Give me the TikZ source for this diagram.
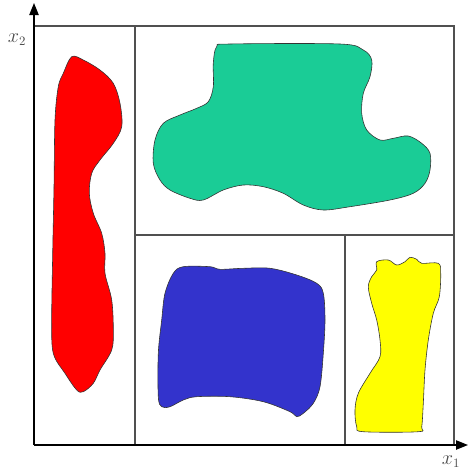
\documentclass[tikz,border=0pt]{standalone}
\usepackage{tikz}
\usetikzlibrary{arrows.meta}
\definecolor{part}{RGB}{80,80,80}
\definecolor{redset}{RGB}{255,0,0}
\definecolor{greenset}{RGB}{26,204,150}
\definecolor{blueset}{RGB}{51,51,204}
\definecolor{yellowset}{RGB}{255,255,0}

\begin{document}
\begin{tikzpicture}[x=0.03cm,y=-0.03cm,
  cell/.style={draw=part,line width=1.1pt},
  axis/.style={-{Triangle[length=3.6mm,width=2.8mm]},draw=black,line width=1.1pt},
  blob/.style={draw=black!80,line width=0.5pt,smooth cycle,tension=0.55},
  lab/.style={text=black!70,font=\fontsize{16}{16}\selectfont}]
\useasboundingbox (0,0) rectangle (468,473);
% partition of the plane
\coordinate (o) at (34,445);
\draw[cell] (34,26) -- (454,26) -- (454,445);
\draw[cell] (135,26) -- (135,445);
\draw[cell] (135,235) -- (454,235);
\draw[cell] (345,235) -- (345,445);
% axes
\coordinate (ytop) at (34,3);
\coordinate (xend) at (468,445);
\draw[axis] (o) -- (ytop);
\draw[axis] (o) -- (xend);
\node[lab] (x2) at (17,40) {$x_2$};
\node[lab] (x1) at (451,462) {$x_1$};
% the four classes
\fill[redset,draw=black!80,line width=0.5pt] plot[smooth cycle,tension=0.55] coordinates {
  (71.7,56.7) (83.3,60) (100,70) (113.3,83.3) (120,103.3) (121.7,126.7)
  (113.3,143.3) (100,160) (91.7,173.3) (89.3,193.3) (93.3,213.3) (101.7,233.3)
  (105,253.3) (105,273.3) (111.7,300) (113.3,330) (111.7,350) (100,370)
  (93.3,383.3) (83.3,391.7) (76.7,390) (65,373.3) (53.3,353.3) (51.7,320)
  (52.7,253.3) (54,186.7) (55,120) (58.3,86.7) (63.3,73.3)};
\fill[greenset,draw=black!80,line width=0.5pt] plot[smooth cycle,tension=0.55] coordinates {
  (216.7,46.7) (230,44) (340,44) (363.3,50) (371.7,60) (370,76.7)
  (363.3,93.3) (361.7,113.3) (366.7,130) (380,140) (393.3,138.3) (408.3,136)
  (421.7,143.3) (430,153.3) (430,170) (425,183.3) (413.3,193.3) (390,200)
  (350,206.7) (323.3,210) (303.3,205) (283.3,193.3) (263.3,186.7) (243.3,185)
  (223.3,190) (203.3,200) (190,198.3) (170,190) (160,180) (153.3,163.3)
  (155,140) (163.3,123.3) (180,115) (196.7,108.3) (208.3,101.7) (213.3,86.7)
  (213.3,63.3)};
\fill[blueset,draw=black!80,line width=0.5pt] plot[smooth cycle,tension=0.55] coordinates {
  (173.3,273.3) (183.3,266.7) (210,266.7) (220,269.3) (243.3,268.3) (270,268.3)
  (296.7,275) (316.7,283.3) (323.3,293.3) (325,320) (323.3,353.3) (320,386.7)
  (313.3,403.3) (303.3,413.3) (296.7,416.7) (290,411.7) (263.3,401.7) (230,396.7)
  (196.7,396.7) (183.3,400) (170,406.7) (161.7,406.7) (158.3,396.7) (158.3,353.3)
  (161.7,320) (165,293.3)};
\fill[yellowset,draw=black!80,line width=0.5pt] plot[smooth cycle,tension=0.55] coordinates {
  (376.7,261.7) (388.3,260) (396.7,265) (405,261.7) (410,257.3) (416.7,259.3)
  (421.7,263.3) (438.3,263.3) (440.7,273.3) (439.3,296.7) (433.3,313.3) (428.3,340)
  (425,370) (423.3,403.3) (421.7,426.7) (418.3,431.7) (363.3,431.7) (356.7,426.7)
  (355,410) (358.3,393.3) (370,373.3) (380,356.7) (380,340) (376.7,320)
  (371.7,303.3) (368.3,286.7) (371.7,276.7) (376.7,270)};
\end{tikzpicture}
\end{document}
